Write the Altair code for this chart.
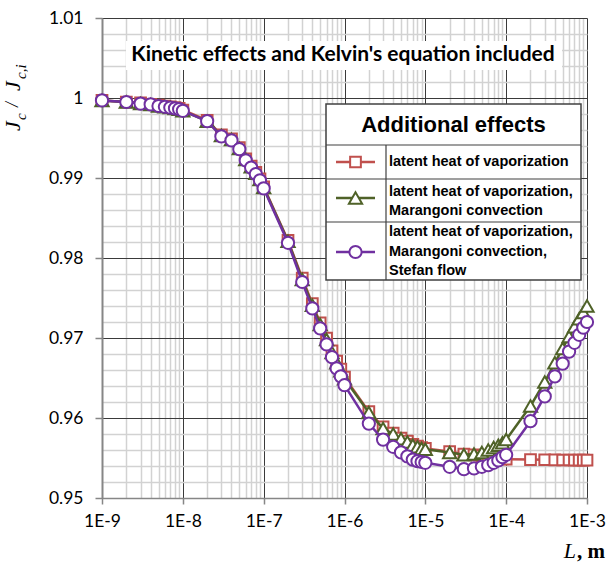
import altair as alt
import pandas as pd

# ---------------- data ----------------
L = [1e-9, 2e-9, 3e-9, 4e-9, 5e-9, 6e-9, 7e-9, 8e-9, 9e-9,
     1e-8, 2e-8, 3e-8, 4e-8, 5e-8, 6e-8, 7e-8, 8e-8, 9e-8,
     1e-7, 2e-7, 3e-7, 4e-7, 5e-7, 6e-7, 7e-7, 8e-7, 9e-7,
     1e-6, 2e-6, 3e-6, 4e-6, 5e-6, 6e-6, 7e-6, 8e-6, 9e-6,
     1e-5, 2e-5, 3e-5, 4e-5, 5e-5, 6e-5, 7e-5, 8e-5, 9e-5,
     1e-4, 2e-4, 3e-4, 4e-4, 5e-4, 6e-4, 7e-4, 8e-4, 9e-4,
     1e-3]

J_LATENT = [0.9997, 0.9995, 0.9994, 0.9992, 0.9991, 0.9990, 0.9989, 0.9988, 0.9987,
            0.9985, 0.9972, 0.9954, 0.9949, 0.9938, 0.9924, 0.9915, 0.9907, 0.9899,
            0.9889, 0.9822, 0.9775, 0.9743, 0.9719, 0.9700, 0.9684, 0.9671, 0.9661,
            0.9651, 0.9608, 0.9589, 0.9581, 0.9575, 0.9571, 0.9567, 0.9565, 0.9563,
            0.9562, 0.9558, 0.9555, 0.9554, 0.9553, 0.9552, 0.9551, 0.9550, 0.9549,
            0.95485, 0.9548, 0.95478, 0.95476, 0.95475, 0.95475, 0.95474, 0.95474, 0.95473,
            0.95473]

J_MARANGONI = [0.9997, 0.9995, 0.9993, 0.9992, 0.9990, 0.9989, 0.9988, 0.9987, 0.9986,
               0.9984, 0.9971, 0.9953, 0.9948, 0.9937, 0.9923, 0.9914, 0.9906, 0.9898,
               0.9888, 0.9821, 0.9773, 0.9741, 0.9717, 0.9698, 0.9682, 0.9669, 0.9659,
               0.9649, 0.9607, 0.9587, 0.9580, 0.9574, 0.9570, 0.9566, 0.9564, 0.9562,
               0.9561, 0.9557, 0.9554, 0.9555, 0.9557, 0.9560, 0.9563, 0.9566, 0.9569,
               0.9573, 0.9615, 0.9645, 0.9669, 0.9687, 0.9702, 0.9714, 0.9724, 0.9732,
               0.9740]

J_STEFAN = [0.9997, 0.9995, 0.9993, 0.9992, 0.9990, 0.9989, 0.9988, 0.9987, 0.9986,
            0.9984, 0.9971, 0.9952, 0.9947, 0.9936, 0.9922, 0.9913, 0.9905, 0.9897,
            0.9887, 0.9819, 0.9770, 0.9737, 0.9712, 0.9692, 0.9676, 0.9662, 0.9652,
            0.9641, 0.9593, 0.9573, 0.9564, 0.9557, 0.9552, 0.9548, 0.9546, 0.9545,
            0.9544, 0.9539, 0.9536, 0.9537, 0.9539, 0.9541, 0.9544, 0.9547, 0.9551,
            0.9554, 0.9596, 0.9627, 0.9652, 0.9668, 0.9683, 0.9694, 0.9704, 0.9713,
            0.9720]

SERIES = ["latent heat of vaporization",
          "latent heat of vaporization, Marangoni convection",
          "latent heat of vaporization, Marangoni convection, Stefan flow"]
COLORS = ["#c0504d", "#4f6228", "#7030a0"]
SHAPES = ["square", "triangle-up", "circle"]
SIZES = [115, 175, 150]

X_TICKS = L
Y_TICKS = [round(0.95 + 0.002 * i, 3) for i in range(31)]

TITLE = "Kinetic effects and Kelvin's equation included"
LEGEND_TITLE = "Additional effects"

# ---------------- scales / axes ----------------
MAJOR_X = "abs(log(datum.value)/LN10 - round(log(datum.value)/LN10)) < 0.001"
MAJOR_Y = "abs(datum.value*100 - round(datum.value*100)) < 0.001"

x_enc = alt.X(
    "L:Q",
    scale=alt.Scale(type="log", domain=[1e-9, 1e-3], nice=False),
    axis=alt.Axis(
        values=X_TICKS, title=None, grid=True,
        gridColor={"condition": {"test": MAJOR_X, "value": "#3a3a3a"}, "value": "#d2d2d2"},
        gridWidth={"condition": {"test": MAJOR_X, "value": 1}, "value": 1.5},
        tickSize={"condition": {"test": MAJOR_X, "value": 6}, "value": 0},
        tickColor="#868686", tickWidth=1.5,
        domainColor="#868686", domainWidth=1.5,
        labelExpr=MAJOR_X + " ? '1E' + round(log(datum.value)/LN10) : ''",
        labelFont="Lato", labelFontSize=17.5, labelColor="black",
        labelPadding=8, labelOverlap=False, labelFlush=False,
    ),
)
y_enc = alt.Y(
    "J:Q",
    scale=alt.Scale(domain=[0.95, 1.01], nice=False, zero=False),
    axis=alt.Axis(
        values=Y_TICKS, title=None, grid=True,
        gridColor={"condition": {"test": MAJOR_Y, "value": "#3a3a3a"}, "value": "#d2d2d2"},
        gridWidth={"condition": {"test": MAJOR_Y, "value": 1}, "value": 1.5},
        tickSize={"condition": {"test": MAJOR_Y, "value": 7}, "value": 0},
        tickColor="#868686", tickWidth=1.5,
        domainColor="#868686", domainWidth=2,
        labelExpr=MAJOR_Y + " ? (abs(datum.value-1) < 1e-6 ? '1' : format(datum.value, '.2f')) : ''",
        labelFont="Lato", labelFontSize=17.5, labelColor="black",
        labelPadding=12, labelOverlap=False, labelFlush=False,
    ),
)

layers = []
for name, vals, col, shp, sz in zip(SERIES, [J_LATENT, J_MARANGONI, J_STEFAN], COLORS, SHAPES, SIZES):
    df = pd.DataFrame({"L": L, "J": vals, "series": name})
    base = alt.Chart(df).encode(x=x_enc, y=y_enc)
    layers.append(base.mark_line(color=col, strokeWidth=2.5))
    layers.append(base.mark_point(shape=shp, size=sz, filled=True, fill="white",
                                  stroke=col, strokeWidth=2, opacity=1))

one = pd.DataFrame({"a": [0]})
ann = alt.Chart(one)

# title box inside plot
layers.append(ann.mark_rect(fill="white").encode(
    x=alt.value(24), x2=alt.value(460), y=alt.value(23), y2=alt.value(52)))
layers.append(ann.mark_text(font="Lato", fontWeight="bold", fontSize=21, color="black",
                            align="center", baseline="middle").encode(
    x=alt.value(241), y=alt.value(37), text=alt.value(TITLE)))

# legend table
BORDER = "#404040"
layers.append(ann.mark_rect(fill="white", stroke=BORDER, strokeWidth=1.5).encode(
    x=alt.value(224), x2=alt.value(479), y=alt.value(86), y2=alt.value(262)))
for yy in [127, 161, 204]:
    layers.append(ann.mark_rule(color=BORDER, strokeWidth=1.2).encode(
        x=alt.value(224), x2=alt.value(479), y=alt.value(yy)))
layers.append(ann.mark_rule(color=BORDER, strokeWidth=1.2).encode(
    x=alt.value(284), y=alt.value(127), y2=alt.value(262)))
layers.append(ann.mark_text(font="Liberation Sans", fontWeight="bold", fontSize=22,
                            color="black", align="center", baseline="middle").encode(
    x=alt.value(351.5), y=alt.value(107), text=alt.value(LEGEND_TITLE)))

sym_y = [144, 180, 234]
for col, shp, sz, yy in zip(COLORS, SHAPES, SIZES, sym_y):
    layers.append(ann.mark_rule(color=col, strokeWidth=2.5).encode(
        x=alt.value(234), x2=alt.value(273), y=alt.value(yy)))
    layers.append(ann.mark_point(shape=shp, size=sz, filled=True, fill="white",
                                 stroke=col, strokeWidth=2, opacity=1).encode(
        x=alt.value(253.5), y=alt.value(yy)))

legend_lines = [
    ("latent heat of vaporization", 144),
    ("latent heat of vaporization,", 173.5),
    ("Marangoni convection", 192.5),
    ("latent heat of vaporization,", 214),
    ("Marangoni convection,", 233.5),
    ("Stefan flow", 252.5),
]
for txt, yy in legend_lines:
    layers.append(ann.mark_text(font="Liberation Sans", fontWeight="bold", fontSize=14.5,
                                color="black", align="left", baseline="middle").encode(
        x=alt.value(287), y=alt.value(yy), text=alt.value(txt)))

# axis titles
SERIF = "Liberation Serif"
layers.append(ann.mark_text(font=SERIF, fontStyle="italic", fontSize=22, color="black",
                            align="right", baseline="alphabetic").encode(
    x=alt.value(474), y=alt.value(540), text=alt.value("L")))
layers.append(ann.mark_text(font=SERIF, fontWeight="bold", fontSize=21, color="black",
                            align="right", baseline="alphabetic").encode(
    x=alt.value(503), y=alt.value(540), text=alt.value(", m")))

ytitle = [
    ("J", 22, -82, 113),
    ("c", 15, -76, 102),
    ("/", 18, -84, 89),
    ("J", 22, -82, 73),
    ("c,i", 15, -76, 61),
]
for txt, fs, xx, yy in ytitle:
    layers.append(ann.mark_text(font=SERIF, fontStyle="italic", fontSize=fs, color="black",
                                angle=270, align="left", baseline="alphabetic").encode(
        x=alt.value(xx), y=alt.value(yy), text=alt.value(txt)))

chart = alt.layer(*layers).properties(
    width=485, height=480,
    autosize=alt.AutoSizeParams(type="none"),
    padding={"left": 102, "top": 18, "right": 20, "bottom": 68},
    background="white",
).configure_view(stroke=None)

chart.save("out.html", embed_options={"renderer": "svg", "actions": False})
